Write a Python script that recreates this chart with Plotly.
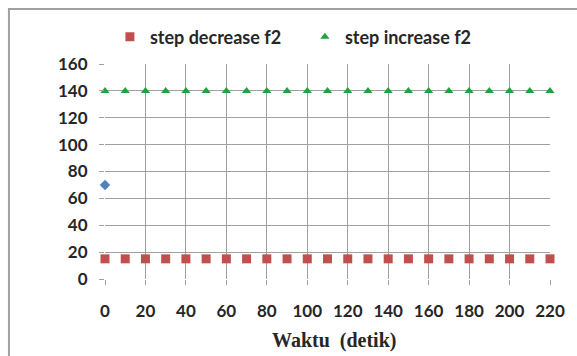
import plotly.graph_objects as go

time_dec = [0, 10, 20, 30, 40, 50, 60, 70, 80, 90, 100, 110, 120, 130, 140, 150, 160, 170, 180, 190, 200, 210, 220]
step_decrease_f2 = [15] * 23
time_inc = [0, 10, 20, 30, 40, 50, 60, 70, 80, 90, 100, 110, 120, 130, 140, 150, 160, 170, 180, 190, 200, 210, 220]
step_increase_f2 = [140] * 23
time_init = [0]
initial_value = [70]

x_ticks = list(range(0, 221, 20))
y_ticks = list(range(0, 161, 20))
x_title = "Waktu  (detik)"

W, H = 577, 356
L, R, T, B = 105, 18, 64, 77
pw, ph = W - L - R, H - T - B

def px(x):
    return (x - L) / pw

def py(y):
    return (H - B - y) / ph

fig = go.Figure()
fig.add_trace(go.Scatter(x=time_init, y=initial_value, mode="markers", showlegend=False,
                         marker=dict(symbol="diamond", size=8, color="#4F81BD")))
fig.add_trace(go.Scatter(x=time_dec, y=step_decrease_f2, mode="markers", name="step decrease f2",
                         marker=dict(symbol="square", size=9, color="#C0504D")))
fig.add_trace(go.Scatter(x=time_inc, y=step_increase_f2, mode="markers", name="step increase f2",
                         marker=dict(symbol="triangle-up", size=8, color="#1FA33C")))

grid = "#A0A0A0"
fig.update_layout(
    width=W, height=H,
    margin=dict(l=L, r=R, t=T, b=B),
    paper_bgcolor="white", plot_bgcolor="white",
    font=dict(family="Lato", color="#262626"),
    legend=dict(orientation="h", x=px(110), y=py(37), xanchor="left", yanchor="middle",
                font=dict(size=18, family="Lato", color="#262626", weight="bold"),
                entrywidth=150, entrywidthmode="pixels",
                bgcolor="rgba(0,0,0,0)"),
    xaxis=dict(range=[0, 220], tickvals=x_ticks, showgrid=True, gridcolor=grid, gridwidth=1,
               zeroline=False, showline=False, ticks="outside", ticklen=5, tickcolor=grid,
               ticklabelstandoff=12,
               tickfont=dict(size=17, family="Lato", color="#262626", weight="bold")),
    yaxis=dict(range=[0, 160], tickvals=y_ticks, showgrid=True, gridcolor=grid, gridwidth=1,
               zeroline=False, showline=False, ticks="outside", ticklen=5, tickcolor=grid,
               ticklabelstandoff=8,
               tickfont=dict(size=17, family="Lato", color="#262626", weight="bold")),
    annotations=[
        dict(text=x_title, xref="paper", yref="paper", x=px(339), y=py(340),
             xanchor="center", yanchor="middle", showarrow=False,
             font=dict(size=20, family="Liberation Serif", color="#262626", weight="bold")),
    ],
    shapes=[
        dict(type="line", xref="paper", yref="paper", x0=px(7), x1=px(7), y0=py(9), y1=py(370),
             line=dict(color="#A0A0A0", width=2)),
        dict(type="line", xref="paper", yref="paper", x0=px(6), x1=px(590), y0=py(9), y1=py(9),
             line=dict(color="#A0A0A0", width=2)),
    ],
)
for tr in fig.data:
    tr.cliponaxis = False

fig.write_html("out.html")
